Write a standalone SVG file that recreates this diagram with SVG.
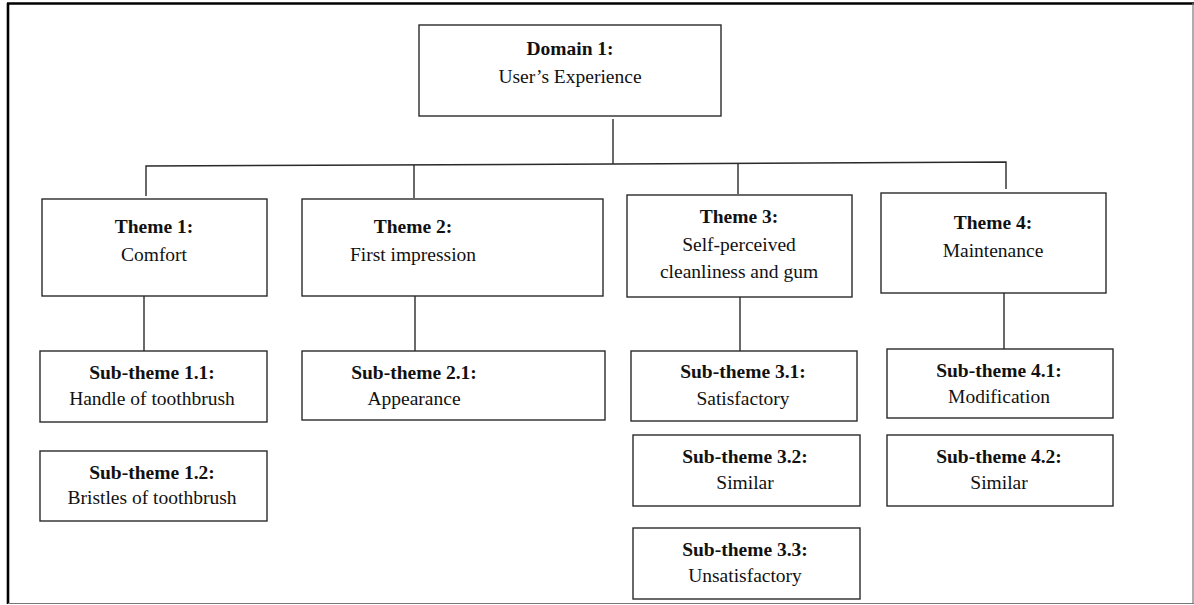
<svg xmlns="http://www.w3.org/2000/svg" width="1194" height="605" viewBox="0 0 1194 605">
<style>
.box{fill:#fff;stroke:#2a2a2a;stroke-width:1.4}
.ln{stroke:#2a2a2a;stroke-width:1.4;fill:none}
text{font-family:'Liberation Serif','DejaVu Serif',serif;font-size:19.5px;fill:#111;text-anchor:middle}
.b{font-weight:bold}
</style>
<rect x="0" y="0" width="1194" height="605" fill="#fff"/>
<g id="frame">
<line x1="7" y1="3.5" x2="1194" y2="3.5" stroke="#000" stroke-width="2.6"/>
<line x1="8" y1="3" x2="8" y2="604" stroke="#000" stroke-width="2.6"/>
<line x1="8" y1="603.5" x2="1194" y2="603.5" stroke="#777" stroke-width="1.2"/>
<line x1="1193" y1="3" x2="1193" y2="604" stroke="#777" stroke-width="1.2"/>
</g>
<g id="connectors">
<line class="ln" x1="613" y1="119" x2="613" y2="164"/>
<polyline class="ln" points="146,196 146,166 613,164 1006,162 1006,189"/>
<line class="ln" x1="414" y1="165" x2="414" y2="198"/>
<line class="ln" x1="738" y1="163" x2="738" y2="194"/>
<line class="ln" x1="144" y1="296" x2="144" y2="351"/>
<line class="ln" x1="415" y1="296" x2="415" y2="351"/>
<line class="ln" x1="740" y1="297" x2="740" y2="351"/>
<line class="ln" x1="1004" y1="293" x2="1004" y2="349"/>
</g>
<g id="domain1">
<rect class="box" x="419" y="25" width="302" height="91"/>
<text class="b" x="570" y="55">Domain 1:</text>
<text x="570" y="83">User’s Experience</text>
</g>
<g id="theme1">
<rect class="box" x="42" y="199" width="225" height="97"/>
<text class="b" x="154" y="233">Theme 1:</text>
<text x="154" y="261">Comfort</text>
</g>
<g id="theme2">
<rect class="box" x="302" y="199" width="301" height="97"/>
<text class="b" x="413" y="233">Theme 2:</text>
<text x="413" y="261">First impression</text>
</g>
<g id="theme3">
<rect class="box" x="627" y="195" width="225" height="102"/>
<text class="b" x="739" y="223">Theme 3:</text>
<text x="739" y="251">Self-perceived</text>
<text x="739" y="278">cleanliness and gum</text>
</g>
<g id="theme4">
<rect class="box" x="881" y="193" width="225" height="100"/>
<text class="b" x="993" y="229">Theme 4:</text>
<text x="993" y="257">Maintenance</text>
</g>
<g id="sub11">
<rect class="box" x="40" y="351" width="227" height="71"/>
<text class="b" x="152" y="379">Sub-theme 1.1:</text>
<text x="152" y="405">Handle of toothbrush</text>
</g>
<g id="sub12">
<rect class="box" x="40" y="451" width="227" height="70"/>
<text class="b" x="152" y="479">Sub-theme 1.2:</text>
<text x="152" y="504">Bristles of toothbrush</text>
</g>
<g id="sub21">
<rect class="box" x="302" y="351" width="303" height="69"/>
<text class="b" x="414" y="379">Sub-theme 2.1:</text>
<text x="414" y="405">Appearance</text>
</g>
<g id="sub31">
<rect class="box" x="631" y="351" width="226" height="70"/>
<text class="b" x="743" y="378">Sub-theme 3.1:</text>
<text x="743" y="405">Satisfactory</text>
</g>
<g id="sub32">
<rect class="box" x="633" y="435" width="227" height="71"/>
<text class="b" x="745" y="463">Sub-theme 3.2:</text>
<text x="745" y="489">Similar</text>
</g>
<g id="sub33">
<rect class="box" x="633" y="528" width="227" height="71"/>
<text class="b" x="745" y="556">Sub-theme 3.3:</text>
<text x="745" y="582">Unsatisfactory</text>
</g>
<g id="sub41">
<rect class="box" x="887" y="349" width="226" height="69"/>
<text class="b" x="999" y="377">Sub-theme 4.1:</text>
<text x="999" y="403">Modification</text>
</g>
<g id="sub42">
<rect class="box" x="887" y="435" width="226" height="71"/>
<text class="b" x="999" y="463">Sub-theme 4.2:</text>
<text x="999" y="489">Similar</text>
</g>
</svg>
